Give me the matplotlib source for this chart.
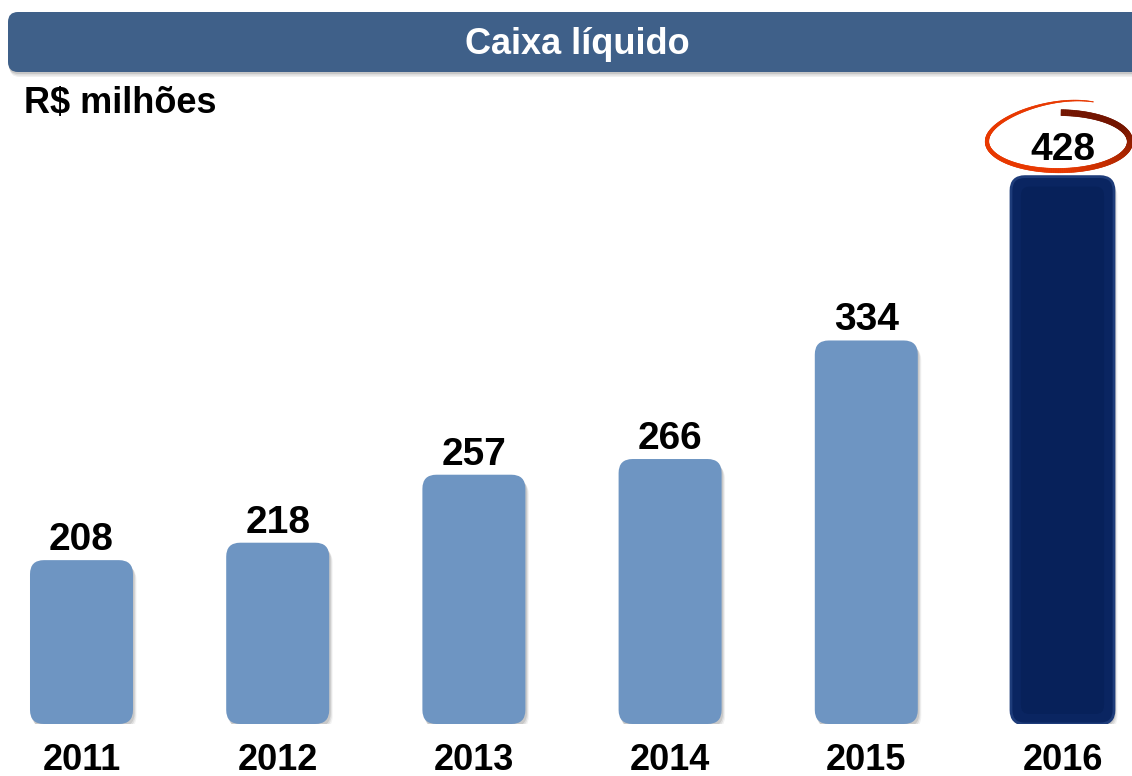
import numpy as np
import matplotlib
matplotlib.use("Agg")
import matplotlib.pyplot as plt
from matplotlib.patches import FancyBboxPatch
from matplotlib.collections import PolyCollection

# Net cash, BRL millions
years = ["2011", "2012", "2013", "2014", "2015", "2016"]
cash = [208, 218, 257, 266, 334, 428]

title = "Caixa líquido"
unit_label = "R$ milhões"

light_blue = "#6E95C2"
navy = "#0A2561"
banner_blue = "#3F6089"

plt.rcParams["font.family"] = ["Liberation Sans", "DejaVu Sans"]

W, H = 1132, 776
fig = plt.figure(figsize=(W / 100, H / 100), dpi=100)
fig.patch.set_facecolor("white")

# Decoration layer in pixel coordinates (y grows downward)
deco = fig.add_axes([0, 0, 1, 1], zorder=0)
deco.set_xlim(0, W)
deco.set_ylim(H, 0)
deco.axis("off")

# Header banner with a soft shadow
for i, a in enumerate([0.10, 0.08, 0.06]):
    off = 2 + i * 1.5
    deco.add_patch(FancyBboxPatch((8 + off * 0.3, 12 + off), 1150, 60,
                                  boxstyle="round,pad=0,rounding_size=10",
                                  fc="black", ec="none", alpha=a))
deco.add_patch(FancyBboxPatch((8, 12), 1150, 60,
                              boxstyle="round,pad=0,rounding_size=10",
                              fc=banner_blue, ec="none"))
deco.text(577, 44, title, color="white", fontsize=26, fontweight="bold",
          ha="center", va="center")
deco.text(24, 103, unit_label, color="black", fontsize=26, fontweight="bold",
          ha="left", va="center")

# Bar chart axes
bottom_px, top_px = 724, 140
ax = fig.add_axes([0, (H - bottom_px) / H, 1, (bottom_px - top_px) / H], zorder=1)
ax.patch.set_alpha(0)
ax.axis("off")
ymin, ymax = 114, 449
ax.set_ylim(ymin, ymax)
spacing = 196.2
ax.set_xlim(-81.5 / spacing, (W - 81.5) / spacing)

px_x = spacing                               # pixels per x unit
px_y = (bottom_px - top_px) / (ymax - ymin)  # pixels per y unit
PT = 72 / 100                                # points per pixel

x = np.arange(len(years))
vals = np.array(cash, dtype=float)
bars = ax.bar(x, vals - ymin, bottom=ymin, width=0.525)

r_px = 14
rx = r_px / px_x
ry = r_px / px_y
last = len(years) - 1
for i, b in enumerate(bars):
    b.set_visible(False)
    x0, y0 = b.get_x(), b.get_y()
    w, h = b.get_width(), b.get_height()
    # soft drop shadow
    for k, a in enumerate([0.10, 0.08, 0.05]):
        dx = (1.5 + k) / px_x
        dy = (3 + 1.5 * k) / px_y
        ax.add_patch(FancyBboxPatch((x0 + dx, y0 - dy), w, h,
                                    boxstyle=f"round,pad=0,rounding_size={rx}",
                                    mutation_aspect=ry / rx,
                                    fc="black", ec="none", alpha=a, zorder=1))
    color = navy if i == last else light_blue
    ax.add_patch(FancyBboxPatch((x0, y0), w, h,
                                boxstyle=f"round,pad=0,rounding_size={rx}",
                                mutation_aspect=ry / rx,
                                fc=color, ec="none", zorder=2))
    if i == last:
        # subtle bevel on the highlighted bar
        ins = 10
        ax.add_patch(FancyBboxPatch((x0 + ins / px_x, y0 + ins / px_y),
                                    w - 2 * ins / px_x, h - 2 * ins / px_y,
                                    boxstyle=f"round,pad=0,rounding_size={rx * 0.6}",
                                    mutation_aspect=ry / rx,
                                    fc="#07215A", ec="none", zorder=3))
        ax.add_patch(FancyBboxPatch((x0, y0), w, h,
                                    boxstyle=f"round,pad=0,rounding_size={rx}",
                                    mutation_aspect=ry / rx,
                                    fc="none", ec="#1E3C7A", lw=2, zorder=4))
    gap_px = 17 if i == last else 10
    ax.annotate(f"{cash[i]}", xy=(x[i], vals[i]), xytext=(0, gap_px * PT),
                textcoords="offset points", ha="center", va="baseline",
                fontsize=28, fontweight="bold", color="black", zorder=6)

# Year labels under the bars
for xi, yr in zip(x, years):
    ax.annotate(yr, xy=(xi, ymin), xytext=(0, -46 * PT), textcoords="offset points",
                ha="center", va="baseline", fontsize=26, fontweight="bold",
                color="black", annotation_clip=False)

# Hand-drawn highlight loop around the last value label (filled brush stroke)
top_last_px = bottom_px - (vals[last] - ymin) * px_y
cx = 81.5 + x[last] * spacing - 4
cy = top_last_px - 35
a0, b0 = 71.5, 29
n = 700
theta = np.radians(np.linspace(88, -298, n))
u = (np.radians(88) - theta) / np.radians(386)
grow = np.where(u > 0.7, (u - 0.7) / 0.3, 0.0)
ax_s = a0 * (1 + 0.04 * grow)
by_s = b0 * (1 + 0.55 * grow ** 1.4)
px = cx + ax_s * np.cos(theta)
py = cy - by_s * np.sin(theta)
# normals of the centre line
tx, ty = np.gradient(px), np.gradient(py)
norm = np.hypot(tx, ty)
nx, ny = -ty / norm, tx / norm
half = 0.5 * np.interp(u, [0.0, 0.25, 0.5, 0.7, 0.85, 1.0],
                       [6.0, 5.5, 4.2, 3.6, 2.4, 0.4])
ox, oy = px + nx * half, py + ny * half
ix, iy = px - nx * half, py - ny * half
quads = [[(ox[j], oy[j]), (ox[j + 1], oy[j + 1]), (ix[j + 1], iy[j + 1]), (ix[j], iy[j])]
         for j in range(n - 1)]
um = 0.5 * (u[:-1] + u[1:])
dark = np.array([0.45, 0.08, 0.0])
bright = np.array([0.91, 0.22, 0.0])
mix = np.clip((um - 0.15) / 0.3, 0, 1)[:, None]
cols = dark * (1 - mix) + bright * mix

loop_ax = fig.add_axes([0, 0, 1, 1], zorder=2)
loop_ax.set_xlim(0, W)
loop_ax.set_ylim(H, 0)
loop_ax.axis("off")
loop_ax.patch.set_alpha(0)
loop_ax.add_collection(PolyCollection(quads, facecolors=cols, edgecolors=cols,
                                      linewidths=0.4))

fig.savefig("out.png", dpi=100, facecolor="white")
